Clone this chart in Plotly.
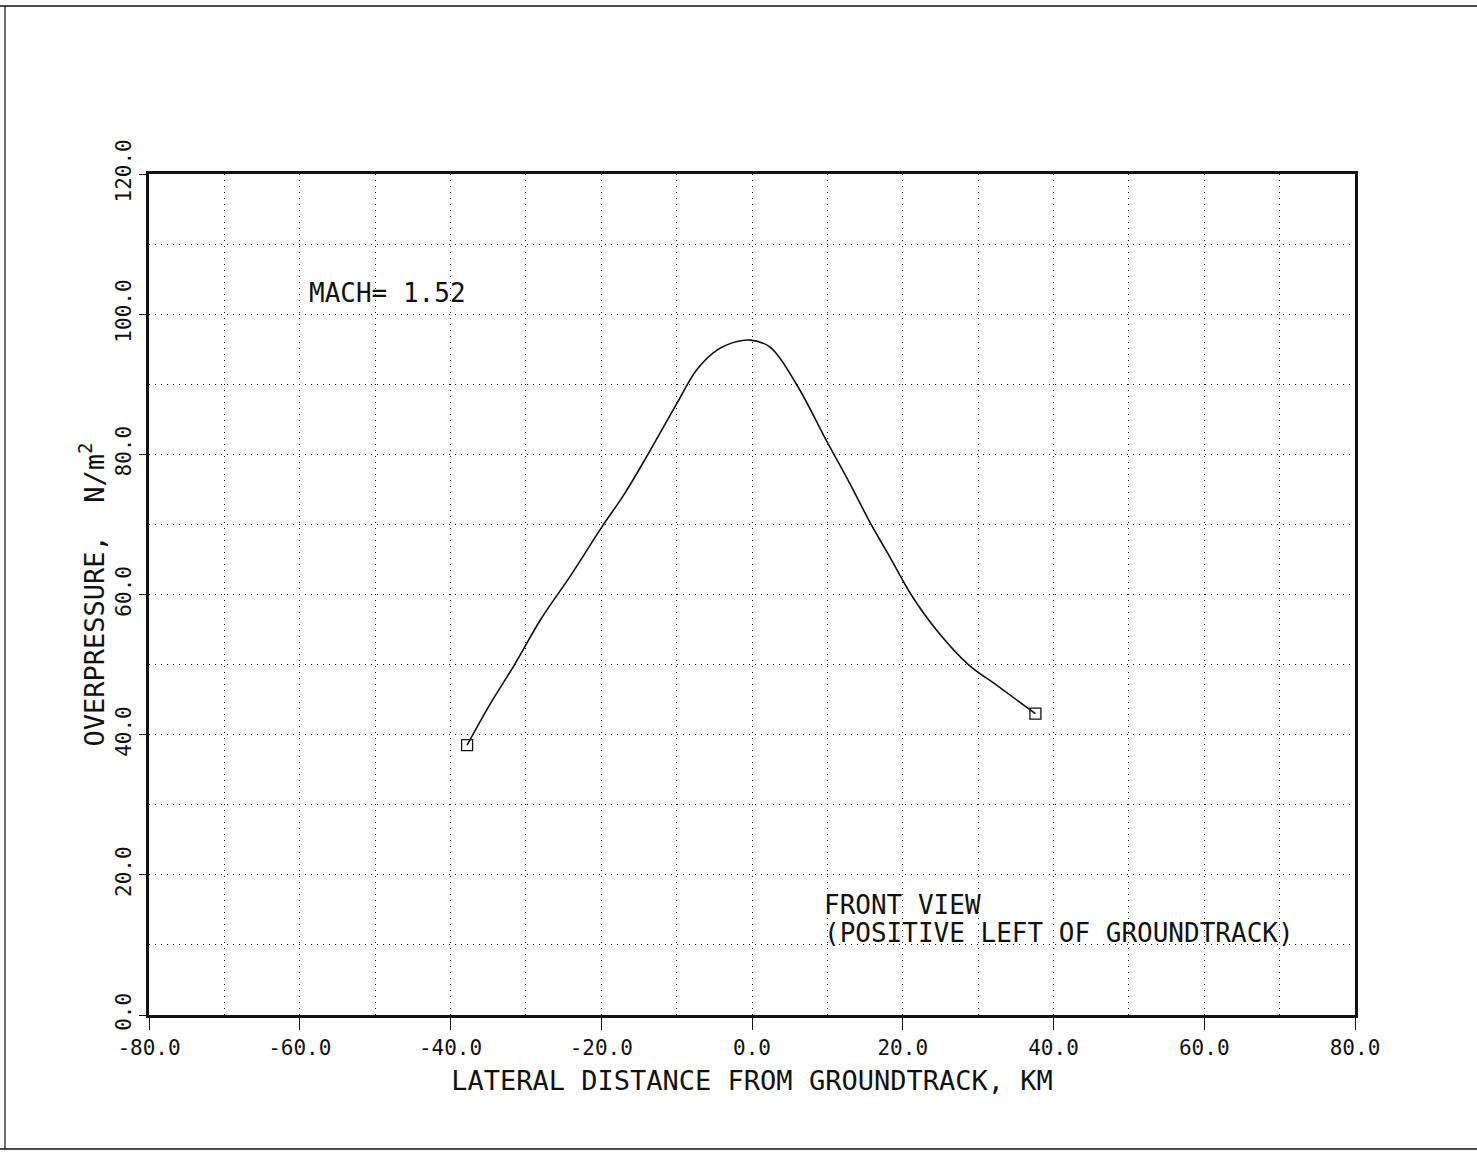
import plotly.graph_objects as go

# Data
lateral_km = [-37.8, -35.0, -31.5, -28.0, -24.0, -20.0, -16.9, -13.8, -10.0, -7.3,
              -4.6, -2.0, -0.2, 2.4, 5.9, 10.0, 13.0, 15.8, 18.0, 21.1,
              24.5, 28.7, 32.4, 37.6]
overpressure = [38.5, 43.9, 50.0, 56.5, 62.8, 69.5, 74.4, 80.0, 87.2, 92.1,
                94.9, 96.1, 96.3, 95.3, 90.0, 81.7, 75.8, 70.0, 65.9, 60.0,
                54.9, 50.0, 47.1, 43.0]
x_ticks = [-80, -60, -40, -20, 0, 20, 40, 60, 80]
y_ticks = [0, 20, 40, 60, 80, 100, 120]
mach_label = "MACH= 1.52"
view_line1 = "FRONT VIEW"
view_line2 = "(POSITIVE LEFT OF GROUNDTRACK)"

FONT = "DejaVu Sans Mono"
INK = "#111111"
DOTS = "1px,5px"

fig = go.Figure()
fig.add_trace(go.Scatter(
    x=lateral_km, y=overpressure, mode="lines",
    line=dict(color=INK, width=1.6, shape="spline", smoothing=1.0),
    showlegend=False, hoverinfo="skip"))
fig.add_trace(go.Scatter(
    x=[lateral_km[0], lateral_km[-1]], y=[overpressure[0], overpressure[-1]],
    mode="markers",
    marker=dict(symbol="square-open", size=11, color=INK, line=dict(width=1.3)),
    showlegend=False))

axis_common = dict(
    showline=True, linecolor=INK, linewidth=3, mirror=True,
    ticks="outside", tickwidth=1.2, tickcolor=INK,
    showgrid=True, gridcolor=INK, gridwidth=1.2, griddash=DOTS,
    zeroline=False,
    tickfont=dict(family=FONT, size=21, color=INK),
    minor=dict(dtick=10, showgrid=True, gridcolor=INK, gridwidth=1.2,
               griddash=DOTS, ticks=""),
)

fig.update_xaxes(
    range=[-80, 80], tickvals=x_ticks, ticktext=[f"{v:.1f}" for v in x_ticks],
    ticklen=12,
    title=dict(text="LATERAL DISTANCE FROM GROUNDTRACK, KM",
               font=dict(family=FONT, size=27, color=INK), standoff=12),
    **axis_common)
fig.update_xaxes(minor_tick0=-80)
fig.update_yaxes(
    range=[0, 120], tickvals=y_ticks, ticktext=[f"{v:.1f}" for v in y_ticks],
    tickangle=-90, ticklen=7,
    title=dict(text="OVERPRESSURE,  N/m<sup>2</sup>",
               font=dict(family=FONT, size=27, color=INK), standoff=0),
    **axis_common)
fig.update_yaxes(minor_tick0=0)

fig.add_annotation(x=-59, y=103, xref="x", yref="y", text=mach_label,
                   showarrow=False, xanchor="left", yanchor="middle",
                   font=dict(family=FONT, size=26, color=INK))
fig.add_annotation(x=9.3, y=15.7, xref="x", yref="y", text=view_line1,
                   showarrow=False, xanchor="left", yanchor="middle",
                   font=dict(family=FONT, size=26, color=INK))
fig.add_annotation(x=9.3, y=11.7, xref="x", yref="y", text=view_line2,
                   showarrow=False, xanchor="left", yanchor="middle",
                   font=dict(family=FONT, size=26, color=INK))

# scan frame lines around the page
W, H = 1477, 1156
l, r, t, b = 149, 122, 174, 141
pw, ph = W - l - r, H - t - b
def px(xp):
    return (xp - l) / pw
def py(yp):
    return (H - b - yp) / ph
fig.add_shape(type="line", xref="paper", yref="paper", x0=px(0), x1=px(W), y0=py(6), y1=py(6),
              line=dict(color=INK, width=1.5))
fig.add_shape(type="line", xref="paper", yref="paper", x0=px(0), x1=px(W), y0=py(1149), y1=py(1149),
              line=dict(color=INK, width=1.5))
fig.add_shape(type="line", xref="paper", yref="paper", x0=px(5), x1=px(5), y0=py(6), y1=py(1149),
              line=dict(color=INK, width=1.2))

fig.update_layout(
    width=W, height=H,
    margin=dict(l=l, r=r, t=t, b=b),
    paper_bgcolor="white", plot_bgcolor="white",
    font=dict(family=FONT, color=INK),
)

fig.write_html("out.html")
